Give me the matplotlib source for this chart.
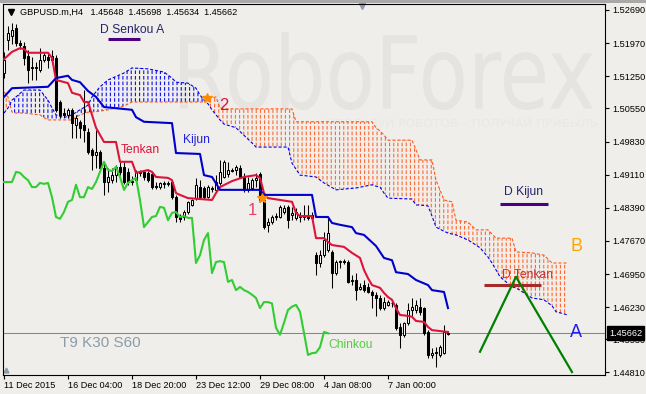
import numpy as np
import matplotlib
matplotlib.use("Agg")
import matplotlib.pyplot as plt
import matplotlib.transforms as mtransforms
from matplotlib.textpath import TextPath
from matplotlib.patches import PathPatch, Rectangle
from matplotlib.font_manager import FontProperties

# ---- candles (GBPUSD H4), one entry per bar ----
opens = [1.5132, 1.5204, 1.5213, 1.5230, 1.5197, 1.5191, 1.5169, 1.5145, 1.5143, 1.5139,
         1.5160, 1.5167, 1.5160, 1.5165, 1.5069, 1.5045, 1.5041, 1.5052, 1.5019, 1.5026,
         1.5019, 1.5004, 1.4965, 1.4954, 1.4960, 1.4925, 1.4895, 1.4899, 1.4910, 1.4928,
         1.4928, 1.4917, 1.4897, 1.4899, 1.4917, 1.4917, 1.4915, 1.4913, 1.4886, 1.4884,
         1.4893, 1.4891, 1.4895, 1.4862, 1.4819, 1.4819, 1.4830, 1.4845, 1.4860, 1.4884,
         1.4882, 1.4862, 1.4882, 1.4878, 1.4893, 1.4906, 1.4913, 1.4921, 1.4921, 1.4925,
         1.4906, 1.4878, 1.4882, 1.4899, 1.4913, 1.4856, 1.4802, 1.4808, 1.4819, 1.4819,
         1.4830, 1.4841, 1.4823, 1.4817, 1.4821, 1.4819, 1.4821, 1.4823, 1.4736, 1.4719,
         1.4736, 1.4747, 1.4743, 1.4697, 1.4721, 1.4723, 1.4721, 1.4680, 1.4682, 1.4663,
         1.4671, 1.4667, 1.4656, 1.4650, 1.4643, 1.4621, 1.4628, 1.4632, 1.4628, 1.4580,
         1.4563, 1.4589, 1.4617, 1.4617, 1.4624, 1.4621, 1.4569, 1.4519, 1.4525, 1.4519,
         1.4523, 1.45648]
highs = [1.5178, 1.5234, 1.5241, 1.5239, 1.5204, 1.5199, 1.5182, 1.5167, 1.5156, 1.5186,
         1.5178, 1.5178, 1.5182, 1.5171, 1.5073, 1.5056, 1.5056, 1.5056, 1.5041, 1.5030,
         1.5095, 1.5013, 1.4969, 1.5008, 1.4965, 1.4939, 1.4925, 1.4925, 1.4932, 1.4939,
         1.4939, 1.4925, 1.4908, 1.4921, 1.4921, 1.4921, 1.4919, 1.4917, 1.4895, 1.4895,
         1.4897, 1.4897, 1.4899, 1.4867, 1.4826, 1.4834, 1.4854, 1.4858, 1.4904, 1.4899,
         1.4886, 1.4889, 1.4886, 1.4910, 1.4943, 1.4943, 1.4939, 1.4925, 1.4932, 1.4932,
         1.4915, 1.4906, 1.4904, 1.4915, 1.4917, 1.4862, 1.4817, 1.4823, 1.4828, 1.4845,
         1.4845, 1.4845, 1.4841, 1.4839, 1.4830, 1.4845, 1.4845, 1.4830, 1.4743, 1.4747,
         1.4786, 1.4817, 1.4747, 1.4725, 1.4725, 1.4728, 1.4725, 1.4693, 1.4697, 1.4675,
         1.4682, 1.4675, 1.4660, 1.4656, 1.4650, 1.4645, 1.4639, 1.4639, 1.4632, 1.4589,
         1.4591, 1.4632, 1.4643, 1.4639, 1.4643, 1.4624, 1.4573, 1.4534, 1.4536, 1.4541,
         1.4584, 1.45698]
lows = [1.5121, 1.5182, 1.5195, 1.5191, 1.5184, 1.5149, 1.5110, 1.5117, 1.5117, 1.5134,
        1.5156, 1.5143, 1.5156, 1.5047, 1.5035, 1.5037, 1.5035, 1.4991, 1.4991, 1.4991,
        1.4982, 1.4956, 1.4921, 1.4925, 1.4921, 1.4867, 1.4873, 1.4893, 1.4895, 1.4910,
        1.4891, 1.4889, 1.4889, 1.4893, 1.4908, 1.4899, 1.4895, 1.4880, 1.4880, 1.4880,
        1.4882, 1.4886, 1.4858, 1.4808, 1.4808, 1.4812, 1.4826, 1.4843, 1.4856, 1.4860,
        1.4858, 1.4860, 1.4873, 1.4873, 1.4889, 1.4904, 1.4906, 1.4917, 1.4910, 1.4904,
        1.4873, 1.4873, 1.4878, 1.4884, 1.4852, 1.4793, 1.4786, 1.4804, 1.4812, 1.4817,
        1.4826, 1.4795, 1.4812, 1.4812, 1.4808, 1.4812, 1.4812, 1.4812, 1.4693, 1.4710,
        1.4732, 1.4743, 1.4665, 1.4693, 1.4708, 1.4717, 1.4675, 1.4671, 1.4639, 1.4660,
        1.4656, 1.4654, 1.4621, 1.4604, 1.4617, 1.4617, 1.4626, 1.4624, 1.4573, 1.4534,
        1.4558, 1.4584, 1.4604, 1.4610, 1.4606, 1.4563, 1.4512, 1.4512, 1.4493, 1.4515,
        1.4521, 1.45634]
closes = [1.5160, 1.5219, 1.5226, 1.5197, 1.5193, 1.5165, 1.5139, 1.5143, 1.5145, 1.5160,
          1.5171, 1.5160, 1.5169, 1.5052, 1.5041, 1.5041, 1.5052, 1.5023, 1.5035, 1.5013,
          1.5008, 1.4960, 1.4954, 1.4960, 1.4925, 1.4895, 1.4906, 1.4910, 1.4928, 1.4917,
          1.4895, 1.4895, 1.4895, 1.4917, 1.4915, 1.4906, 1.4899, 1.4884, 1.4884, 1.4893,
          1.4891, 1.4893, 1.4862, 1.4819, 1.4815, 1.4830, 1.4852, 1.4856, 1.4889, 1.4862,
          1.4862, 1.4884, 1.4880, 1.4895, 1.4917, 1.4939, 1.4921, 1.4919, 1.4928, 1.4906,
          1.4878, 1.4893, 1.4899, 1.4904, 1.4856, 1.4797, 1.4808, 1.4819, 1.4821, 1.4841,
          1.4839, 1.4812, 1.4828, 1.4830, 1.4819, 1.4821, 1.4817, 1.4817, 1.4719, 1.4736,
          1.4769, 1.4784, 1.4697, 1.4721, 1.4723, 1.4721, 1.4678, 1.4682, 1.4660, 1.4667,
          1.4660, 1.4656, 1.4650, 1.4643, 1.4621, 1.4634, 1.4634, 1.4631, 1.4578, 1.4563,
          1.4589, 1.4617, 1.4624, 1.4628, 1.4613, 1.4567, 1.4519, 1.4523, 1.4524, 1.4536,
          1.4569, 1.45662]

# ---- Ichimoku lines (bar index, price) ----
tenkan_bars = [0, 2, 4, 5, 6, 11, 12, 13, 16, 17, 19, 20, 21, 22, 23, 25, 28, 29, 32, 33,
               34, 36, 37, 38, 41, 42, 43, 44, 46, 49, 52, 53, 54, 57, 60, 63, 64, 65, 66, 69,
               72, 73, 74, 77, 78, 80, 81, 82, 85, 87, 89, 90, 91, 92, 94, 95, 96, 97, 98, 99,
               101, 102, 103, 105, 106, 107, 111]
tenkan = [1.5162, 1.5178, 1.5186, 1.5184, 1.5176, 1.5176, 1.5165, 1.5117, 1.5110, 1.5089,
          1.5084, 1.5069, 1.5069, 1.5041, 1.5013, 1.4982, 1.4982, 1.4939, 1.4939, 1.4915,
          1.4917, 1.4921, 1.4917, 1.4906, 1.4904, 1.4899, 1.4871, 1.4867, 1.4860, 1.4858,
          1.4856, 1.4871, 1.4884, 1.4897, 1.4906, 1.4910, 1.4904, 1.4871, 1.4860, 1.4856,
          1.4852, 1.4828, 1.4821, 1.4821, 1.4773, 1.4773, 1.4765, 1.4758, 1.4754, 1.4741,
          1.4730, 1.4704, 1.4686, 1.4671, 1.4665, 1.4654, 1.4645, 1.4639, 1.4621, 1.4606,
          1.4604, 1.4602, 1.4593, 1.4591, 1.4580, 1.4573, 1.4569]

kijun_bars = [0, 2, 11, 13, 16, 17, 19, 21, 23, 25, 32, 33, 35, 42, 43, 49, 50, 52, 54, 64,
              65, 77, 78, 81, 82, 84, 87, 88, 90, 93, 95, 97, 98, 101, 103, 106, 107, 110, 111]
kijun = [1.5080, 1.5099, 1.5102, 1.5121, 1.5126, 1.5117, 1.5112, 1.5093, 1.5080, 1.5058,
         1.5052, 1.5036, 1.5026, 1.5023, 1.4958, 1.4956, 1.4910, 1.4906, 1.4878, 1.4878,
         1.4867, 1.4867, 1.4819, 1.4819, 1.4806, 1.4802, 1.4797, 1.4784, 1.4780, 1.4756,
         1.4730, 1.4725, 1.4699, 1.4695, 1.4682, 1.4671, 1.4660, 1.4656, 1.4621]

kumo_bars = [0, 1, 2, 3, 5, 9, 10, 11, 12, 13, 15, 17, 19, 21, 22, 24, 26, 30, 32, 36,
             40, 42, 43, 46, 48, 49, 50, 51, 52, 53, 54, 55, 58, 62, 63, 71, 72, 73, 74, 78,
             80, 83, 88, 92, 93, 94, 95, 96, 102, 103, 104, 106, 107, 108, 110, 111, 112, 113,
             116, 118, 119, 121, 122, 123, 124, 127, 128, 132, 135, 137, 138, 141]
senkou_a = [1.5045, 1.5056, 1.5073, 1.5080, 1.5095, 1.5095, 1.5084, 1.5073, 1.5056, 1.5041,
            1.5035, 1.5041, 1.5052, 1.5062, 1.5080, 1.5102, 1.5117, 1.5132, 1.5143, 1.5141,
            1.5134, 1.5121, 1.5112, 1.5110, 1.5099, 1.5084, 1.5073, 1.5065, 1.5052, 1.5041,
            1.5030, 1.5021, 1.5013, 1.4980, 1.4971, 1.4971, 1.4936, 1.4923, 1.4910, 1.4906,
            1.4893, 1.4878, 1.4882, 1.4889, 1.4886, 1.4884, 1.4871, 1.4860, 1.4858, 1.4845,
            1.4845, 1.4843, 1.4821, 1.4797, 1.4788, 1.4784, 1.4782, 1.4780, 1.4769, 1.4758,
            1.4752, 1.4732, 1.4719, 1.4704, 1.4689, 1.4667, 1.4665, 1.4643, 1.4639, 1.4626,
            1.4613, 1.4606]
senkou_b = [1.5091, 1.5080, 1.5047, 1.5045, 1.5045, 1.5041, 1.5035, 1.5030, 1.5030, 1.5030,
            1.5030, 1.5030, 1.5041, 1.5047, 1.5047, 1.5049, 1.5052, 1.5060, 1.5069, 1.5069,
            1.5069, 1.5069, 1.5069, 1.5069, 1.5069, 1.5069, 1.5069, 1.5076, 1.5078, 1.5080,
            1.5056, 1.5054, 1.5054, 1.5054, 1.5054, 1.5054, 1.5054, 1.5026, 1.5026, 1.5026,
            1.5026, 1.5026, 1.5026, 1.5026, 1.5013, 1.5006, 1.4997, 1.4986, 1.4986, 1.4965,
            1.4943, 1.4943, 1.4943, 1.4899, 1.4856, 1.4854, 1.4852, 1.4812, 1.4808, 1.4791,
            1.4791, 1.4791, 1.4782, 1.4773, 1.4773, 1.4773, 1.4743, 1.4741, 1.4736, 1.4719,
            1.4719, 1.4719]
chinkou_shift = 30

# ---- drawn objects on the chart (bar index, price) ----
d_senkou_a_bars, d_senkou_a = [26, 34], 1.5206
d_kijun_bars, d_kijun = [124, 136], 1.4847
d_tenkan_bars, d_tenkan = [120, 134.25], 1.4671
zigzag_bars = [119, 128, 142]
zigzag = [1.4526, 1.4689, 1.4482]
cross_bars = [50.75, 64.5]
cross_prices = [1.5078, 1.4860]

xtick_bars = [0, 16, 32, 48, 64, 80, 96]
xtick_labels = ["11 Dec 2015", "16 Dec 04:00", "18 Dec 20:00", "23 Dec 12:00",
                "29 Dec 08:00", "4 Jan 08:00", "7 Jan 00:00"]
ytick_vals = [1.52690, 1.51970, 1.51250, 1.50550, 1.49830, 1.49110, 1.48390,
              1.47670, 1.46950, 1.46230, 1.45530, 1.44810]

W, H = 646, 394
BG = "#EFEEEA"

plt.rcParams['font.family'] = ['Liberation Sans', 'DejaVu Sans']
plt.rcParams['lines.scale_dashes'] = False

fig = plt.figure(figsize=(W / 100, H / 100), dpi=100, facecolor=BG)
ax = fig.add_axes([3 / W, 19 / H, 602 / W, 371 / H], facecolor=BG)
ax.set_xlim(-0.25, 150.25)
ax.set_ylim(1.44755, 1.5282)


def fit_text(s, x0, y0, x1, y1, color):
    """watermark text squeezed into a pixel box (top-left x0,y0 / bottom-right x1,y1)"""
    tp = TextPath((0, 0), s, size=50, prop=FontProperties(family='DejaVu Sans'))
    bb = tp.get_extents()
    tr = (mtransforms.Affine2D().translate(-bb.x0, -bb.y0)
          .scale((x1 - x0) / bb.width, (y1 - y0) / bb.height)
          .translate(x0, H - y1))
    ax.add_patch(PathPatch(tp, transform=tr, facecolor=color, edgecolor='none', zorder=0.2))


fit_text("RoboForex", 180, 32, 593, 110, "#E5E4E0")
fit_text("ИСПОЛЬЗУЙ РОБОТОВ – ПОЛУЧАЙ ПРИБЫЛЬ", 318, 117, 597, 127, "#E9E8E4")

# kumo: dotted vertical hatching (vertical lines cut by background stripes)
ka = np.array(senkou_a)
kb = np.array(senkou_b)
plt.rcParams['hatch.linewidth'] = 0.8
ax.fill_between(kumo_bars, ka, kb, where=ka >= kb, interpolate=True, facecolor='none',
                edgecolor='#1010F0', hatch='||||', lw=0, zorder=1)
ax.fill_between(kumo_bars, ka, kb, where=ka < kb, interpolate=True, facecolor='none',
                edgecolor='#FF6A33', hatch='||||', lw=0, zorder=1)
plt.rcParams['hatch.linewidth'] = 1.4
ax.fill_between(kumo_bars, ka, kb, facecolor='none', edgecolor=BG, hatch='---', lw=0, zorder=1.1)
ax.plot(kumo_bars, senkou_a, color='#0000EE', lw=0.8, ls=(0, (2.2, 1.4)), zorder=1.5)
ax.plot(kumo_bars, senkou_b, color='#FF5A1F', lw=0.8, ls=(0, (2.2, 1.4)), zorder=1.5)

# last price line
ax.axhline(closes[-1], color='#778899', lw=0.75, zorder=2)

# candles
o = np.array(opens)
c = np.array(closes)
idx = np.arange(len(c))
up = c >= o
ax.vlines(idx, lows, highs, color='black', lw=0.75, zorder=3)
ax.bar(idx[up], (c - o)[up], bottom=o[up], width=0.55, facecolor='white',
       edgecolor='black', lw=0.75, zorder=3.1)
ax.bar(idx[~up], (o - c)[~up], bottom=c[~up], width=0.55, facecolor='black',
       edgecolor='black', lw=0.75, zorder=3.1)

# tenkan / kijun / chinkou
ax.plot(tenkan_bars, tenkan, color='#DC143C', lw=1.5, zorder=4)
ax.plot(kijun_bars, kijun, color='#0000CD', lw=1.5, zorder=4)
ax.plot(idx[:len(c) - chinkou_shift], c[chinkou_shift:], color='#32CD32', lw=1.5, zorder=4)

# drawn objects
ax.plot(d_senkou_a_bars, [d_senkou_a] * 2, color='#4B0082', lw=2.2, solid_capstyle='butt', zorder=5)
ax.plot(d_kijun_bars, [d_kijun] * 2, color='#4B0082', lw=2.2, solid_capstyle='butt', zorder=5)
ax.plot(d_tenkan_bars, [d_tenkan] * 2, color='#A52A2A', lw=2.2, solid_capstyle='butt', zorder=5)
ax.plot(zigzag_bars, zigzag, color='#008000', lw=1.6, zorder=5)
ax.plot(cross_bars, cross_prices, ls='none', marker='*', ms=7, color='#FF8C00', zorder=5)

lab = dict(ha='center', va='center', zorder=6)
ax.text(32, 1.5226, "D Senkou A", fontsize=8.7, color='#24246E', **lab)
ax.text(34, 1.4965, "Tenkan", fontsize=8.7, color='#DC143C', **lab)
ax.text(48, 1.4986, "Kijun", fontsize=8.7, color='#2222DD', **lab)
ax.text(86.75, 1.4541, "Chinkou", fontsize=8.7, color='#55CC44', **lab)
ax.text(55, 1.5062, "2", fontsize=12, color='#DC143C', **lab)
ax.text(62, 1.4834, "1", fontsize=12, color='#E8406A', **lab)
ax.text(130, 1.4873, "D Kijun", fontsize=8.7, color='#24246E', **lab)
ax.text(131, 1.4693, "D Tenkan", fontsize=8.7, color='#C83232', **lab)
ax.text(143.25, 1.4754, "B", fontsize=13, color='#FFA500', **lab)
ax.text(143, 1.4567, "A", fontsize=13, color='#1E1EE6', **lab)
ax.text(24, 1.4545, "T9 K30 S60", fontsize=11, color='#8C9BAA', **lab)

# axes, ticks
for s in ax.spines.values():
    s.set_color('black')
    s.set_linewidth(0.8)
ax.yaxis.tick_right()
ax.set_yticks(ytick_vals)
ax.set_yticklabels([f"{v:.5f}" for v in ytick_vals])
ax.set_xticks(xtick_bars)
ax.set_xticklabels(xtick_labels)
for t in ax.get_xticklabels():
    t.set_ha('left')
ax.tick_params(axis='y', direction='out', length=3, width=0.8, pad=2, labelsize=6.6, colors='black')
ax.tick_params(axis='x', direction='out', length=3, width=0.8, pad=1.5, labelsize=6.6, colors='black')

ax.text((609 - 3) / 602, closes[-1], f"{closes[-1]:.5f}",
        transform=mtransforms.blended_transform_factory(ax.transAxes, ax.transData),
        ha='left', va='center', fontsize=6.6, color='white', zorder=10, clip_on=False,
        bbox=dict(boxstyle='square,pad=0.25', facecolor='black', edgecolor='black'))

# header line and small chart markers
fig.text(20 / W, 1 - 12 / H, "GBPUSD.m,H4   1.45648  1.45698  1.45634  1.45662",
         fontsize=6.6, va='center', ha='left', color='black')
ax.plot([(11 - 3) / 602], [(375 - 12) / 371], marker='v', ms=4, color='black',
        transform=ax.transAxes, clip_on=False)
ax.plot([(362 - 3) / 602], [(375 - 6) / 371], marker='v', ms=5, color='#8C9AB0',
        transform=ax.transAxes, clip_on=False)
ax.plot([(6 - 3) / 602], [(375 - 370) / 371], marker='^', ms=3.5, color='#8C9AB0',
        transform=ax.transAxes, clip_on=False)
fig.patches.append(Rectangle((0, 1 - 3 / H), 1, 3 / H, transform=fig.transFigure,
                             facecolor='#A8A8A8', edgecolor='none'))

fig.savefig("out.png", dpi=100, facecolor=BG)
